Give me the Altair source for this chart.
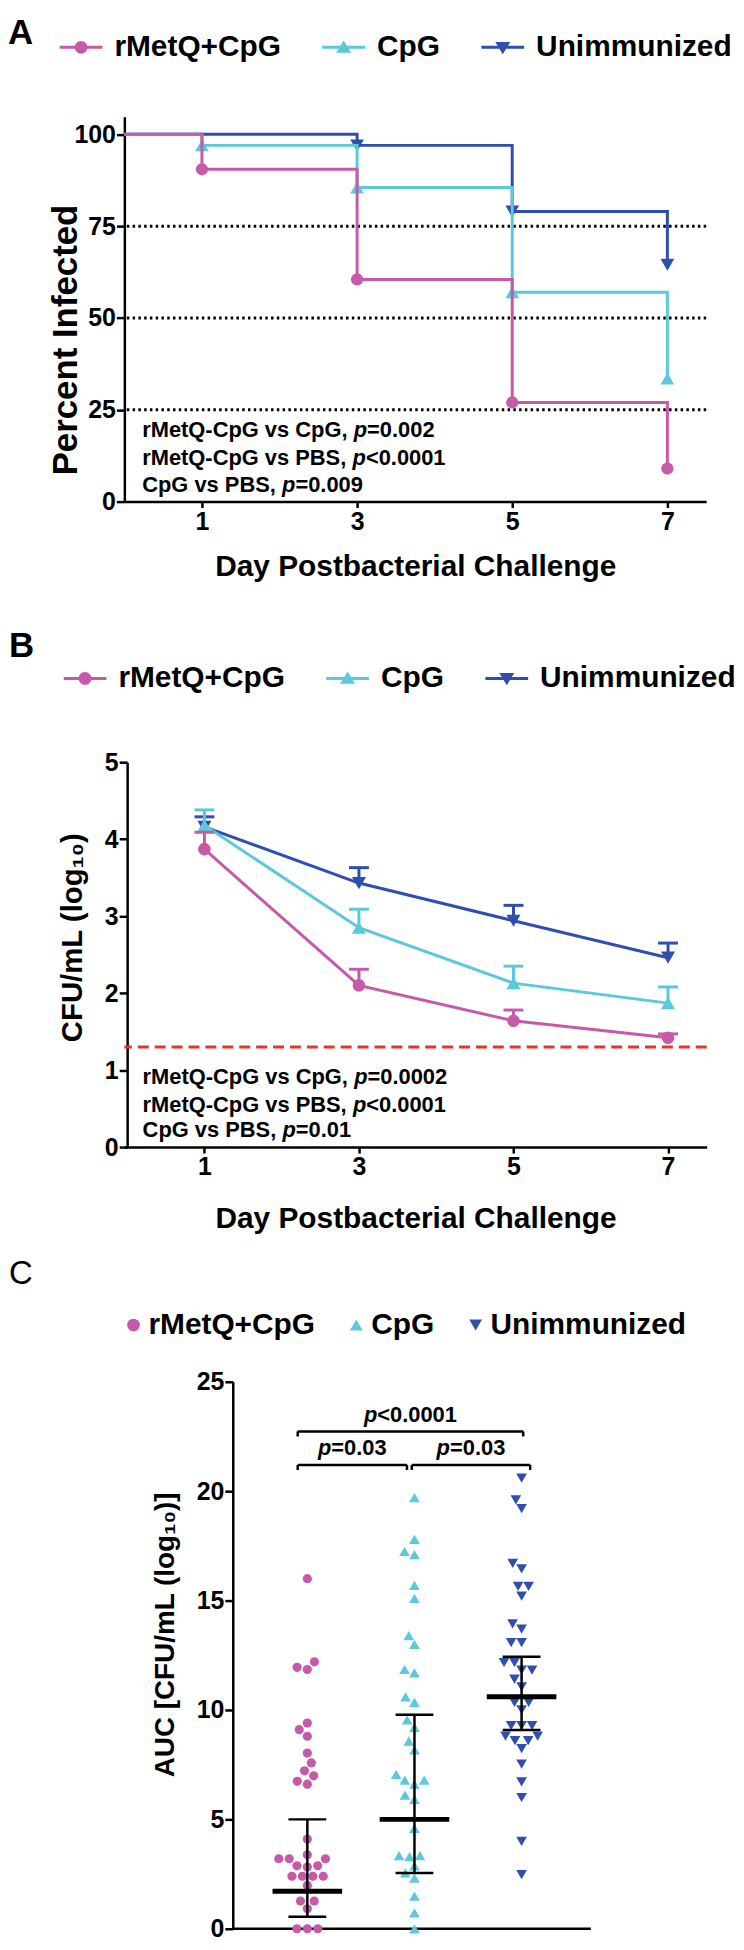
import math
import altair as alt
import pandas as pd

FONT = "Liberation Sans"

groups = ["rMetQ+CpG", "CpG", "Unimmunized"]
colors = ["#c65aa9", "#5cc8dc", "#2f4fae"]
marker_shapes = ["circle", "triangle-up", "triangle-down"]

# ---------------- Panel A data ----------------
days_a = [0, 1, 3, 5, 7]
infected_rmetq = [100, 90.5, 60.5, 27, 9]
infected_cpg = [100, 97, 85.5, 57, 33.5]
infected_unimm = [100, 100, 97, 79, 64.5]
guide_levels_a = [25, 50, 75]
stats_names = ["rMetQ-CpG vs CpG, ", "rMetQ-CpG vs PBS, ", "CpG vs PBS, "]
stats_a_values = ["=0.002", "<0.0001", "=0.009"]
stats_a_x = 0.23
stats_a_y = [19.5, 11.9, 4.6]

# ---------------- Panel B data ----------------
days_b = [1, 3, 5, 7]
cfu_rmetq = [3.87, 2.10, 1.64, 1.42]
cfu_rmetq_up = [4.09, 2.31, 1.78, 1.47]
cfu_cpg = [4.18, 2.85, 2.13, 1.87]
cfu_cpg_up = [4.38, 3.09, 2.35, 2.08]
cfu_unimm = [4.16, 3.43, 2.94, 2.46]
cfu_unimm_up = [4.29, 3.63, 3.14, 2.65]
detection_limit = 1.3
stats_b_values = ["=0.0002", "<0.0001", "=0.01"]
stats_b_x = 0.2
stats_b_y = [0.915, 0.55, 0.215]

# ---------------- Panel C data ----------------
auc_rmetq = [16.0, 12.2, 11.95, 11.85, 9.4, 9.1, 8.8, 8.03, 7.58, 7.22, 6.99, 6.74,
             6.61, 4.1, 3.38, 3.2, 3.2, 3.2, 2.88, 2.88, 2.82, 2.4, 2.4, 2.4, 2.4,
             1.98, 1.27, 1.27, 0.91, 0, 0, 0]
auc_cpg = [19.7, 17.8, 17.25, 17.1, 15.7, 15.1, 13.4, 13.0, 11.85, 11.7, 10.6, 10.35,
           9.55, 9.21, 8.58, 8.18, 7.06, 6.79, 6.79, 6.61, 6.11, 5.91, 4.59, 3.34,
           3.34, 3.3, 2.88, 2.55, 2.32, 1.49, 0.73, 0]
auc_unimm = [20.6, 19.6, 19.2, 16.7, 16.45, 15.65, 15.65, 15.2, 13.94, 13.7, 13.08,
             13.08, 12.17, 12.17, 11.82, 11.82, 11.41, 11.06, 10.35, 10.35, 10.0, 9.29,
             9.29, 9.29, 8.8, 8.8, 8.6, 8.6, 8.23, 7.52, 6.71, 6.0, 3.99, 2.47]
auc_median = [1.72, 5.0, 10.6]
auc_low = [0.55, 2.55, 9.09]
auc_high = [5.0, 9.78, 12.43]
bracket_x1 = [-0.09, -0.09, 0.975]
bracket_x2 = [2.015, 0.93, 2.08]
bracket_y = [22.73, 21.2, 21.2]
bracket_p = ["<0.0001", "=0.03", "=0.03"]

# ---------------- geometry ----------------
WA, HA = 585, 387
WB, HB = 585.5, 387
WC, HC = 469, 550
XDOM_A = [0, 7.5]
XDOM_B = [-0.036, 7.5]
YDOM_A = [0, 104.8]
YDOM_B = [0, 5]
XDOM_C = [-1.708, 2.646]
XAXIS_C = [-0.696, 2.646]
YDOM_C = [0, 25]

# Arial-bold advance widths (per 1000 em) used to place the italic "p"
CHAR_W = {' ': 278, ',': 278, '-': 333, '.': 278, '<': 584, '=': 584, '+': 584,
          'B': 722, 'C': 722, 'G': 778, 'M': 833, 'P': 667, 'Q': 778, 'S': 667,
          'e': 556, 'p': 611, 'r': 389, 's': 556, 't': 333, 'v': 556}
for d in "0123456789":
    CHAR_W[d] = 556


def text_px(s, size):
    return sum(CHAR_W.get(c, 556) for c in s) * size / 1000.0


def stat_rows(names, values, x0, ys, fs, ppu):
    rows = []
    for name, val, yv in zip(names, values, ys):
        x = x0
        rows.append(dict(x=x, y=yv, t=name, it=0))
        x += text_px(name, fs) / ppu
        rows.append(dict(x=x, y=yv, t="p", it=1))
        x += text_px("p", fs) / ppu
        rows.append(dict(x=x, y=yv, t=val, it=0))
    return pd.DataFrame(rows)


def text_layers(df, X, Y, fs, align="left"):
    out = []
    for it in (0, 1):
        out.append(
            alt.Chart(df[df.it == it]).mark_text(
                align=align, baseline="middle", font=FONT, fontSize=fs,
                fontWeight="bold", fontStyle="italic" if it else "normal", color="black"
            ).encode(x=X("x"), y=Y("y"), text="t:N")
        )
    return out


def letter_layer(letter, x, y, size=35, weight="bold"):
    return alt.Chart(pd.DataFrame({"t": [letter]})).mark_text(
        align="left", baseline="alphabetic", font=FONT, fontSize=size,
        fontWeight=weight, color="black"
    ).encode(text="t:N", x=alt.value(x), y=alt.value(y))


def spacer_layer(y1, y2):
    return alt.Chart(pd.DataFrame({"s": [0]})).mark_rect(opacity=0).encode(
        x=alt.value(-117), x2=alt.value(611), y=alt.value(y1), y2=alt.value(y2))


def legend_layer(shape_range, legend):
    df = pd.DataFrame({"group": groups})
    return alt.Chart(df).mark_point(filled=True, opacity=1).encode(
        color=alt.Color("group:N", scale=alt.Scale(domain=groups, range=colors), legend=legend),
        shape=alt.Shape("group:N", scale=alt.Scale(domain=groups, range=shape_range), legend=legend),
    ).transform_filter("false")


BAR = "M-1,-0.07L1,-0.07L1,0.07L-1,0.07Z"
line_marker_paths = [
    BAR + " M-0.3,0A0.3,0.3 0 1,1 0.3,0A0.3,0.3 0 1,1 -0.3,0Z",
    BAR + " M0,-0.32L0.35,0.25L-0.35,0.25Z",
    BAR + " M0,0.32L-0.35,-0.25L0.35,-0.25Z",
]


def line_legend(lx, ly):
    return alt.Legend(
        orient="none", legendX=lx, legendY=ly, direction="horizontal", title=None,
        labelFont=FONT, labelFontSize=30, labelFontWeight="bold", labelColor="black",
        labelLimit=400, symbolSize=1849, symbolStrokeWidth=0, symbolOpacity=1,
        labelOffset=12, columnPadding=41, padding=0)


# ================= Panel A =================
xsA = alt.Scale(domain=XDOM_A, nice=False, zero=False)
ysA = alt.Scale(domain=YDOM_A, nice=False)
xaxA = alt.Axis(values=[1, 3, 5, 7], title="Day Postbacterial Challenge", tickSize=6,
                labelPadding=2, titlePadding=17, titleFontSize=30, labelFontSize=25, format="d")
yaxA = alt.Axis(values=[0, 25, 50, 75, 100], title="Percent Infected", tickSize=8,
                labelPadding=1, titleFontSize=35, labelFontSize=25,
                titleX=-48, titleY=224, titleBaseline="alphabetic")
XA = lambda f: alt.X(f"{f}:Q", scale=xsA, axis=xaxA)
YA = lambda f: alt.Y(f"{f}:Q", scale=ysA, axis=yaxA)

layersA = [spacer_layer(-103.7, 488.3)]
layersA.append(
    alt.Chart(pd.DataFrame({"lvl": guide_levels_a})).mark_rule(
        color="black", strokeWidth=3, strokeDash=[2.5, 3.3]).encode(y=YA("lvl"))
)
series_a = {"rMetQ+CpG": infected_rmetq, "CpG": infected_cpg, "Unimmunized": infected_unimm}
for gi in (2, 1, 0):
    g = groups[gi]
    vals = series_a[g]
    df = pd.DataFrame({"day": days_a, "pct": vals})
    layersA.append(alt.Chart(df).mark_line(
        interpolate="step-after", color=colors[gi], strokeWidth=3).encode(x=XA("day"), y=YA("pct")))
    ev = pd.DataFrame({"day": [d for i, d in enumerate(days_a) if i > 0 and vals[i] < vals[i - 1]],
                       "pct": [v for i, v in enumerate(vals) if i > 0 and v < vals[i - 1]]})
    layersA.append(alt.Chart(ev).mark_point(
        shape=marker_shapes[gi], filled=True, opacity=1, size=150 if gi == 0 else 190,
        color=colors[gi], strokeWidth=0).encode(x=XA("day"), y=YA("pct")))
layersA += text_layers(stat_rows(stats_names, stats_a_values, stats_a_x, stats_a_y, 22,
                                 WA / (XDOM_A[1] - XDOM_A[0])), XA, YA, 22)
layersA.append(letter_layer("A", -117, -73))
layersA.append(legend_layer(line_marker_paths, line_legend(-65, -91.5)))
panelA = alt.layer(*layersA).properties(width=WA, height=HA)

# ================= Panel B =================
xsB = alt.Scale(domain=XDOM_B, nice=False, zero=False)
ysB = alt.Scale(domain=YDOM_B, nice=False)
xaxB = alt.Axis(values=[1, 3, 5, 7], title="Day Postbacterial Challenge", tickSize=6,
                labelPadding=2, titlePadding=24, titleFontSize=30, labelFontSize=25, format="d")
yaxB = alt.Axis(values=[0, 1, 2, 3, 4, 5], title="CFU/mL (log\u2081\u2080)", tickSize=8,
                labelPadding=1, titleFontSize=29.5, labelFontSize=25, offset=-2.8,
                titleX=-46, titleY=176, titleBaseline="alphabetic")
XB = lambda f: alt.X(f"{f}:Q", scale=xsB, axis=xaxB)
YB = lambda f: alt.Y(f"{f}:Q", scale=ysB, axis=yaxB)

layersB = [spacer_layer(-160, 490)]
layersB.append(
    alt.Chart(pd.DataFrame({"lim": [detection_limit]})).mark_rule(
        color="#e8352c", strokeWidth=3, strokeDash=[11, 6]).encode(y=YB("lim"))
)
series_b = {"rMetQ+CpG": (cfu_rmetq, cfu_rmetq_up), "CpG": (cfu_cpg, cfu_cpg_up),
            "Unimmunized": (cfu_unimm, cfu_unimm_up)}
for gi in (2, 1, 0):
    g = groups[gi]
    mean, up = series_b[g]
    df = pd.DataFrame({"day": days_b, "m": mean, "up": up})
    layersB.append(alt.Chart(df).mark_rule(color=colors[gi], strokeWidth=3).encode(
        x=XB("day"), y=YB("m"), y2="up:Q"))
    layersB.append(alt.Chart(df).mark_tick(
        orient="horizontal", color=colors[gi], size=20, thickness=3, opacity=1).encode(
        x=XB("day"), y=YB("up")))
    layersB.append(alt.Chart(df).mark_line(color=colors[gi], strokeWidth=3).encode(
        x=XB("day"), y=YB("m")))
    layersB.append(alt.Chart(df).mark_point(
        shape=marker_shapes[gi], filled=True, opacity=1, size=160 if gi == 0 else 200,
        color=colors[gi], strokeWidth=0).encode(x=XB("day"), y=YB("m")))
layersB += text_layers(stat_rows(stats_names, stats_b_values, stats_b_x, stats_b_y, 22,
                                 WB / (XDOM_B[1] - XDOM_B[0])), XB, YB, 22)
layersB.append(letter_layer("B", -116, -106))
layersB.append(legend_layer(line_marker_paths, line_legend(-61, -106)))
panelB = alt.layer(*layersB).properties(width=WB, height=HB)

# ================= Panel C =================
xsC = alt.Scale(domain=XDOM_C, nice=False, zero=False)
ysC = alt.Scale(domain=YDOM_C, nice=False)
PPU_X = WC / (XDOM_C[1] - XDOM_C[0])
PPU_Y = HC / (YDOM_C[1] - YDOM_C[0])
axis_shift = (XAXIS_C[0] - XDOM_C[0]) * PPU_X
yaxC = alt.Axis(values=[0, 5, 10, 15, 20, 25], title="AUC [CFU/mL (log\u2081\u2080)]", tickSize=8,
                labelPadding=1, titleFontSize=28, labelFontSize=25, offset=-axis_shift,
                titleX=-60, titleY=254, titleBaseline="alphabetic")
XC = lambda f: alt.X(f"{f}:Q", scale=xsC, axis=None)
YC = lambda f: alt.Y(f"{f}:Q", scale=ysC, axis=yaxC)


def swarm_offsets(values, diam):
    placed = []
    offs = [0.0] * len(values)
    for i in sorted(range(len(values)), key=lambda k: values[k]):
        y = values[i] * PPU_Y
        neigh = []
        cands = [0.0]
        for px, py in placed:
            dy = abs(py - y)
            if dy < diam:
                dx = math.sqrt(diam * diam - dy * dy)
                neigh.append((px, dx))
                cands += [px - dx, px + dx]
        best = 0.0
        for c in sorted(cands, key=lambda c: (round(abs(c), 6), c)):
            if all(abs(c - px) >= dx - 1e-6 for px, dx in neigh):
                best = c
                break
        placed.append((best, y))
        offs[i] = best / PPU_X
    return offs


layersC = [spacer_layer(-132.7, 559.3)]
# x baseline of panel C (starts at the y axis)
layersC.append(alt.Chart(pd.DataFrame({"x1": [XAXIS_C[0]], "x2": [XAXIS_C[1]], "y": [0]})).mark_rule(
    color="black", strokeWidth=2.5).encode(x=XC("x1"), x2="x2:Q", y=YC("y")))
auc_all = [auc_rmetq, auc_cpg, auc_unimm]
for gi in range(3):
    vals = auc_all[gi]
    offs = swarm_offsets(vals, 10.5)
    df = pd.DataFrame({"x": [gi + o for o in offs], "v": vals})
    layersC.append(alt.Chart(df).mark_point(
        shape=marker_shapes[gi], filled=True, opacity=1, size=85 if gi == 0 else 115,
        color=colors[gi], strokeWidth=0).encode(x=XC("x"), y=YC("v")))
summ = pd.DataFrame({"x": [0, 1, 2], "med": auc_median, "lo": auc_low, "hi": auc_high})
layersC.append(alt.Chart(summ).mark_rule(color="black", strokeWidth=2.5).encode(
    x=XC("x"), y=YC("lo"), y2="hi:Q"))
for col in ("lo", "hi"):
    layersC.append(alt.Chart(summ).mark_tick(
        orient="horizontal", color="black", size=38, thickness=2.5, opacity=1).encode(
        x=XC("x"), y=YC(col)))
layersC.append(alt.Chart(summ).mark_tick(
    orient="horizontal", color="black", size=70, thickness=5, opacity=1).encode(
    x=XC("x"), y=YC("med")))
br = pd.DataFrame({"x1": bracket_x1, "x2": bracket_x2, "y": bracket_y})
layersC.append(alt.Chart(br).mark_rule(color="black", strokeWidth=2.5).encode(
    x=XC("x1"), x2="x2:Q", y=YC("y")))
ends = pd.DataFrame({"x": bracket_x1 + bracket_x2, "y": bracket_y + bracket_y})
ends["y2"] = ends["y"] - 0.23
layersC.append(alt.Chart(ends).mark_rule(color="black", strokeWidth=2.5).encode(
    x=XC("x"), y=YC("y"), y2="y2:Q"))
brow = []
for x1, x2, yv, pv in zip(bracket_x1, bracket_x2, bracket_y, bracket_p):
    mid = (x1 + x2) / 2
    total = text_px("p" + pv, 22)
    x0 = mid - (total / 2) / PPU_X
    brow.append(dict(x=x0, y=yv + 0.75, t="p", it=1))
    brow.append(dict(x=x0 + text_px("p", 22) / PPU_X, y=yv + 0.75, t=pv, it=0))
layersC += text_layers(pd.DataFrame(brow), XC, YC, 22)
layersC.append(letter_layer("C", -116, -98, size=33, weight="normal"))
layersC.append(legend_layer(marker_shapes, alt.Legend(
    orient="none", legendX=-5.8, legendY=-72, direction="horizontal", title=None,
    labelFont=FONT, labelFontSize=30, labelFontWeight="bold", labelColor="black",
    labelLimit=400, symbolSize=165, symbolStrokeWidth=0, symbolOpacity=1,
    labelOffset=0, columnPadding=26, padding=0)))
panelC = alt.layer(*layersC).properties(width=WC, height=HC)

chart = alt.concat(panelA, panelB, panelC, columns=1, spacing=0, align="none").resolve_scale(
    color="independent", shape="independent"
).properties(padding=0, background="white").configure_view(stroke=None).configure_axis(
    grid=False, domainColor="black", tickColor="black", labelColor="black", titleColor="black",
    labelFont=FONT, titleFont=FONT, labelFontWeight="bold", titleFontWeight="bold",
    domainWidth=2.5, tickWidth=2.5
)

chart.save("out.html", embed_options={"renderer": "svg", "actions": False})
